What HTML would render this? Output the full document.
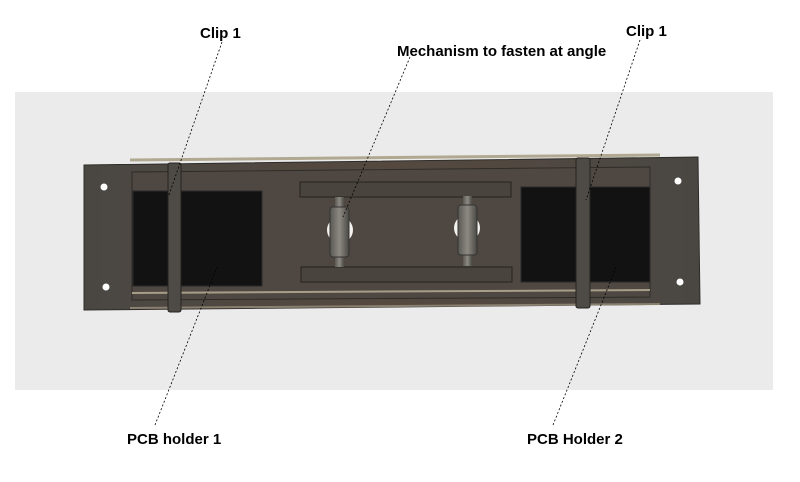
<!DOCTYPE html>
<html><head><style>
html,body{margin:0;padding:0;background:#fff;width:800px;height:482px;overflow:hidden}
text{font-family:"Liberation Sans",sans-serif;font-size:15px;font-weight:bold;fill:#000}
</style></head><body>
<svg width="800" height="482" viewBox="0 0 800 482" xmlns="http://www.w3.org/2000/svg">
<defs>
<linearGradient id="bd" x1="0" x2="1" y1="0" y2="0">
<stop offset="0" stop-color="#4a4743"/><stop offset="0.5" stop-color="#55493f"/><stop offset="1" stop-color="#4a4743"/>
</linearGradient>
<linearGradient id="bolt" x1="0" x2="1">
<stop offset="0" stop-color="#5a5852"/><stop offset="0.5" stop-color="#8c8a82"/><stop offset="1" stop-color="#4a4843"/>
</linearGradient>
</defs>
<rect x="15" y="92" width="758" height="298" fill="#ebebeb"/>
<polygon points="84,165 698,157 700,304 84,310" fill="url(#bd)" stroke="#2e2c29" stroke-width="1"/>
<line x1="130" y1="160" x2="660" y2="155" stroke="#b0a890" stroke-width="3"/>
<line x1="130" y1="308" x2="660" y2="304" stroke="#8a8070" stroke-width="2"/>
<polygon points="132,172 650,167 650,297 132,300" fill="#4f4842" stroke="#2e2c29"/>
<line x1="132" y1="293" x2="650" y2="290" stroke="#a89e88" stroke-width="2"/>
<circle cx="104" cy="187" r="3.5" fill="#fff"/>
<circle cx="106" cy="287" r="3.5" fill="#fff"/>
<circle cx="678" cy="181" r="3.5" fill="#fff"/>
<circle cx="680" cy="282" r="3.5" fill="#fff"/>
<rect x="133" y="191" width="129" height="95" fill="#121212" stroke="#2a2a2a"/>
<rect x="521" y="187" width="129" height="95" fill="#121212" stroke="#2a2a2a"/>
<rect x="300" y="182" width="211" height="15" fill="#4a443e" stroke="#242220"/>
<rect x="301" y="267" width="211" height="15" fill="#4a443e" stroke="#242220"/>
<circle cx="340" cy="230" r="13" fill="#f4f2ee"/>
<circle cx="467" cy="228" r="13" fill="#f4f2ee"/>
<rect x="335" y="197" width="9" height="70" fill="url(#bolt)"/>
<rect x="330" y="207" width="19" height="50" rx="3" fill="url(#bolt)" stroke="#333"/>
<rect x="463" y="196" width="9" height="70" fill="url(#bolt)"/>
<rect x="458" y="205" width="19" height="50" rx="3" fill="url(#bolt)" stroke="#333"/>
<rect x="168" y="163" width="13" height="149" rx="2" fill="#4e4a45" stroke="#252320"/>
<rect x="576" y="158" width="14" height="150" rx="2" fill="#4e4a45" stroke="#252320"/>
<g stroke="#000" stroke-width="0.8" stroke-dasharray="2,2" fill="none">
<line x1="222" y1="42" x2="169" y2="195"/>
<line x1="410" y1="57" x2="343" y2="217"/>
<line x1="640" y1="40" x2="586" y2="200"/>
<line x1="155" y1="425" x2="218" y2="265"/>
<line x1="553" y1="425" x2="617" y2="265"/>
</g>
<text x="200" y="38">Clip 1</text>
<text x="397" y="56">Mechanism to fasten at angle</text>
<text x="626" y="36">Clip 1</text>
<text x="127" y="444">PCB holder 1</text>
<text x="527" y="444">PCB Holder 2</text>
</svg>
</body></html>
